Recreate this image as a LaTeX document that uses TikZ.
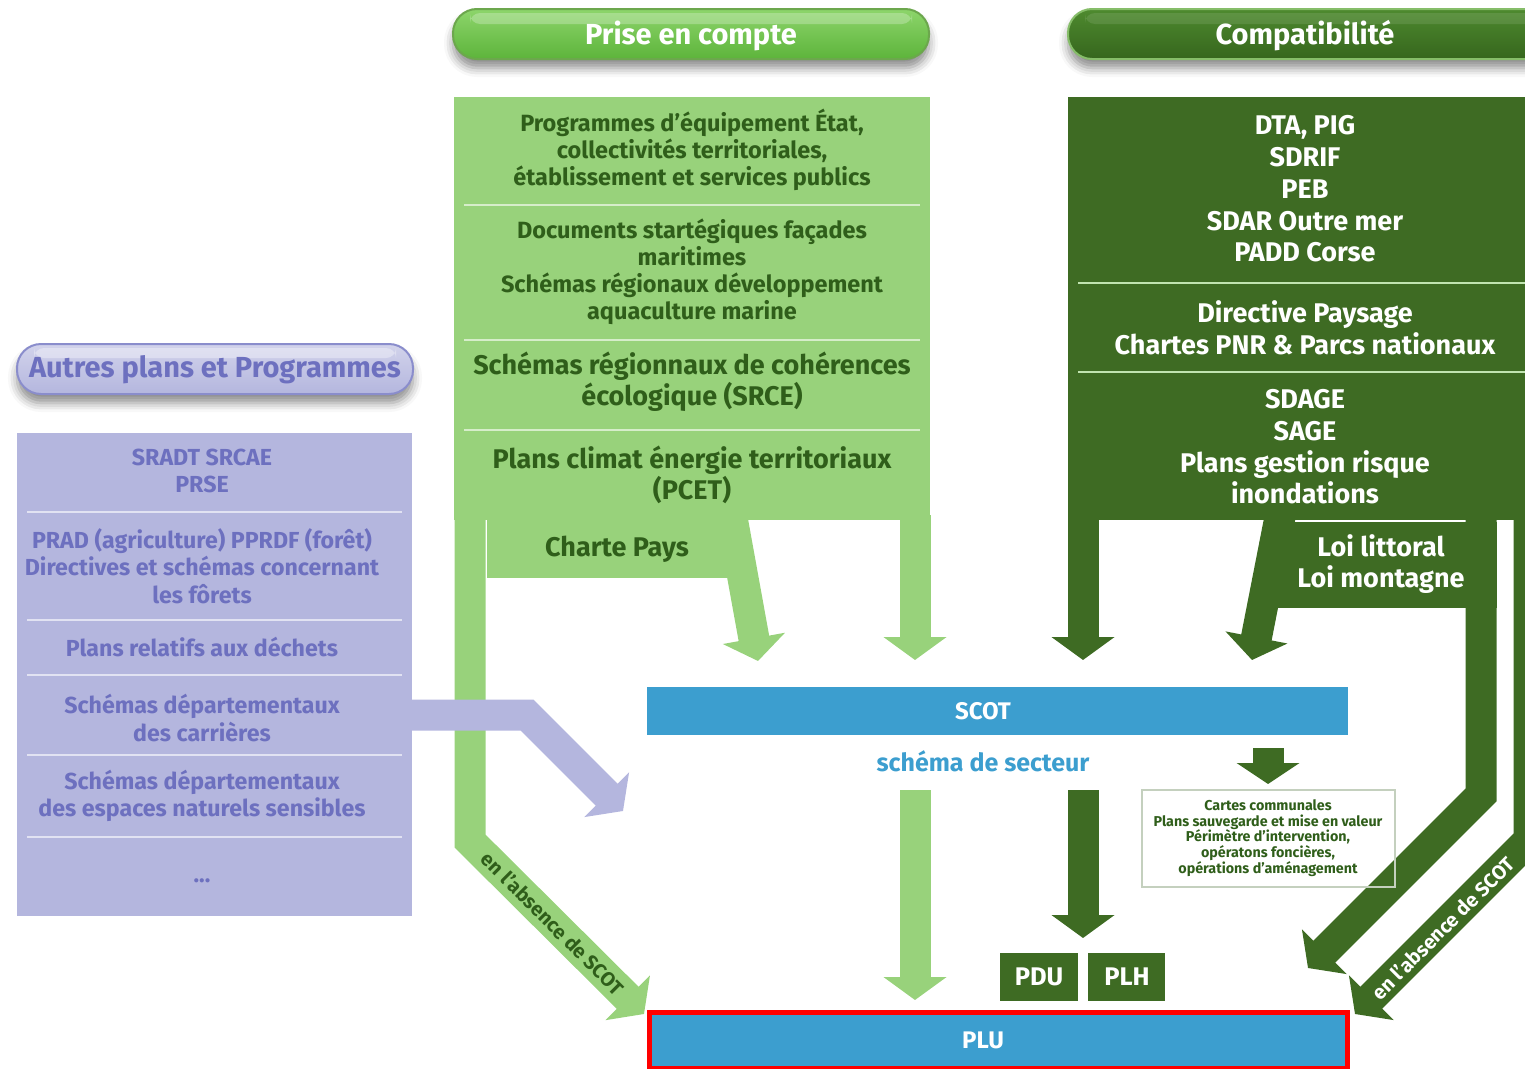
\documentclass[tikz,border=0pt]{standalone}
\usepackage{fontspec}
\setmainfont{Fira Sans}
\usetikzlibrary{arrows.meta,shadows.blur,calc}
\definecolor{lgreen}{HTML}{98D27B}
\definecolor{dgreen}{HTML}{3E6B23}
\definecolor{lgtext}{HTML}{2F5E1A}
\definecolor{lavender}{HTML}{B4B6DE}
\definecolor{lavtext}{HTML}{6D70BF}
\definecolor{scotblue}{HTML}{3C9ECF}
\definecolor{btnlight}{HTML}{8DD56B}
\definecolor{btnmid}{HTML}{5DB43B}
\definecolor{btndark}{HTML}{4E8A2F}
\definecolor{btndeep}{HTML}{36661D}
\begin{document}
\begin{tikzpicture}[x=1pt, y=-1pt,
    txt/.style 2 args={align=center, inner sep=0pt, font=\bfseries\fontsize{#1}{#2}\selectfont},
    lgtxt/.style 2 args={txt={#1}{#2}, text=lgtext},
    dgtxt/.style 2 args={txt={#1}{#2}, text=white},
    lvtxt/.style={txt={23.2}{27.5}, text=lavtext},
    sep/.style={line width=2pt},
    lgarrow/.style={draw=lgreen, line width=31pt, line join=miter,
        -{Triangle[length=23pt, width=62pt]}},
    dgarrow/.style={lgarrow, draw=dgreen},
    lvarrow/.style={lgarrow, draw=lavender},
    pill/.style={rounded corners=24pt, line width=2pt,
        blur shadow={shadow xshift=0pt, shadow yshift=-9pt, shadow blur radius=9pt, shadow opacity=45}},
    band/.style={inner sep=0pt, text=white, font=\bfseries\fontsize{24}{28}\selectfont}
]
\useasboundingbox (0,0) rectangle (1525,1068);
\clip (0,0) rectangle (1525,1068);

% Headings
\fill[pill, top color=btnlight, bottom color=btnmid, draw=btndark!60!lgreen]
    (453,9) rectangle (929,59);
\fill[white, opacity=0.25, rounded corners=10pt] (470,13) rectangle (912,24);
\node[txt={29}{32}, text=white] (prise) at (691,36) {Prise en compte};

\fill[pill, top color=btndark, bottom color=btndeep, draw=lgreen!80!dgreen]
    (1068,9) rectangle (1560,59);
\fill[white, opacity=0.1, rounded corners=10pt] (1085,13) rectangle (1540,24);
\node[txt={29}{32}, text=white] (compat) at (1305,36) {Compatibilité};

\fill[pill, top color=lavender!60, bottom color=lavender, draw=lavtext!80]
    (17,344) rectangle (413,394);
\fill[white, opacity=0.35, rounded corners=10pt] (34,348) rectangle (396,358);
\node[txt={29}{32}, text=lavtext] (autres) at (215,370) {Autres plans et Programmes};

% Arrows (drawn below the boxes)
\coordinate (lgA) at (470,515);
\coordinate (lgB) at (470,841);
\coordinate (lgC) at (644,1014);
\draw[lgarrow] (lgA) -- (lgB) -- (lgC);
\coordinate (chA) at (731,512);
\coordinate (chB) at (758,661);
\draw[lgarrow] (chA) -- (chB);
\coordinate (rgA) at (915,515);
\coordinate (rgB) at (915,660);
\draw[lgarrow] (rgA) -- (rgB);

\coordinate (dlA) at (1083,515);
\coordinate (dlB) at (1083,660);
\draw[dgarrow] (dlA) -- (dlB);
\coordinate (loA) at (1281,512);
\coordinate (loB) at (1252,660);
\draw[dgarrow] (loA) -- (loB);
\coordinate (inA) at (1481,515);
\coordinate (inB) at (1481,795);
\coordinate (inC) at (1308,968);
\draw[dgarrow] (inA) -- (inB) -- (inC);
\coordinate (ouA) at (1529,515);
\coordinate (ouB) at (1529,840);
\coordinate (ouC) at (1355,1014);
\draw[dgarrow] (ouA) -- (ouB) -- (ouC);

% Prise en compte column
\fill[lgreen] (454,97) rectangle (930,520);
\foreach \y in {205,340,430}
    \draw[sep, lgreen!40!white] (464,\y) -- (920,\y);
\node[lgtxt={23.5}{27}] (equip) at (692,150)
    {Programmes d’équipement État,\\collectivités territoriales,\\établissement et services publics};
\node[lgtxt={23.5}{27}] (facades) at (692,272)
    {Documents startégiques façades\\maritimes\\Schémas régionaux développement\\aquaculture marine};
\node[lgtxt={27}{31}] (srce) at (692,382)
    {Schémas régionnaux de cohérences\\écologique (SRCE)};
\node[lgtxt={27}{31}] (pcet) at (692,475)
    {Plans climat énergie territoriaux\\(PCET)};
\fill[lgreen] (487,520) rectangle (736,578);
\node[lgtxt={27}{31}] (charte) at (617,549) {Charte Pays};
\node[lgtxt={20}{24}, rotate=-45] (absL) at ($(lgB)!0.5!(lgC)+(-4,-4)$) {en l’absence de SCOT};

% Compatibilite column
\fill[dgreen] (1068,97) rectangle (1560,520);
\foreach \y in {283,372}
    \draw[sep, lgreen!60!white] (1078,\y) -- (1525,\y);
\node[dgtxt={27}{31.7}] (dta) at (1305,189)
    {DTA, PIG\\SDRIF\\PEB\\SDAR Outre mer\\PADD Corse};
\node[dgtxt={27}{31.7}] (paysage) at (1305,328)
    {Directive Paysage\\Chartes PNR \& Parcs nationaux};
\node[dgtxt={27}{31.7}] (sdage) at (1305,447)
    {SDAGE\\SAGE\\Plans gestion risque\\inondations};
\fill[dgreen] (1268,522) rectangle (1497,608);
\node[dgtxt={27}{31.7}] (loi) at (1381,564) {Loi littoral\\Loi montagne};
\node[dgtxt={20}{24}, rotate=45] (absR) at ($(ouB)!0.5!(ouC)+(1,1)$) {en l’absence de SCOT};

% Autres plans column
\coordinate (lvA) at (407,715);
\coordinate (lvB) at (527,715);
\coordinate (lvC) at (623,811);
\fill[lavender] (17,433) rectangle (412,916);
\draw[lvarrow] (lvA) -- (lvB) -- (lvC);
\foreach \y in {512,620,675,755,837}
    \draw[sep, lavender!40!white] (27,\y) -- (402,\y);
\node[lvtxt] (sradt) at (202,471) {SRADT SRCAE\\PRSE};
\node[lvtxt] (prad) at (202,566)
    {PRAD (agriculture) PPRDF (forêt)\\Directives et schémas concernant\\les fôrets};
\node[lvtxt] (dechets) at (202,647) {Plans relatifs aux déchets};
\node[lvtxt] (carrieres) at (202,718) {Schémas départementaux\\des carrières};
\node[lvtxt] (ens) at (202,796) {Schémas départementaux\\des espaces naturels sensibles};
\node[lvtxt] (dots) at (202,881) {...};

% SCOT
\fill[scotblue] (647,687) rectangle (1348,735);
\node[band] (scot) at (983,711) {SCOT};
\node[txt={25}{28}, text=scotblue] (secteur) at (983,761) {schéma de secteur};

\coordinate (spA) at (1268,748);
\coordinate (spB) at (1268,784);
\draw[dgarrow, -{Triangle[length=21pt, width=62pt]}] (spA) -- (spB);
\draw[line width=1.5pt, lgreen!40!gray!50] (1142,790) rectangle (1395,887);
\node[lgtxt={14.3}{15.8}] (cartes) at (1268,838)
    {Cartes communales\\Plans sauvegarde et mise en valeur\\Périmètre d’intervention,\\opératons foncières,\\opérations d’aménagement};

\coordinate (plA) at (915,790);
\coordinate (plB) at (915,1000);
\draw[lgarrow] (plA) -- (plB);
\coordinate (pdA) at (1083,790);
\coordinate (pdB) at (1083,938);
\draw[dgarrow] (pdA) -- (pdB);

\fill[dgreen] (1000,953) rectangle (1078,1001);
\node[dgtxt={25.5}{28}] (pdu) at (1039,977) {PDU};
\fill[dgreen] (1088,953) rectangle (1165,1001);
\node[dgtxt={25.5}{28}] (plh) at (1127,977) {PLH};

% PLU
\fill[scotblue] (650,1013) rectangle (1347,1066);
\draw[red, line width=5pt] (649.5,1012.5) rectangle (1347.5,1068);
\node[band] (plu) at (983,1040) {PLU};
\end{tikzpicture}
\end{document}
